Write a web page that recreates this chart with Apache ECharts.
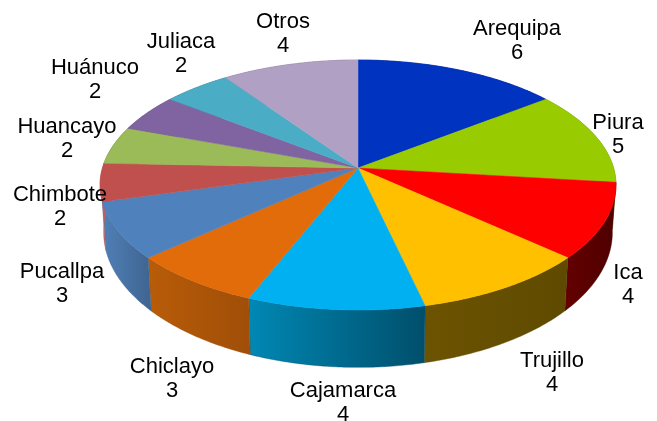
<!DOCTYPE html>
<html><head><meta charset="utf-8">
<style>html,body{margin:0;padding:0;background:#fff}#c{width:657px;height:421px}</style>
<script src="https://cdn.jsdelivr.net/npm/echarts@6/dist/echarts.min.js"></script>
</head><body><div id="c"></div>
<script>
const categories=['Arequipa','Piura','Ica','Trujillo','Cajamarca','Chiclayo','Pucallpa','Chimbote','Huancayo','Huánuco','Juliaca','Otros'];
const values=[6,5,4,4,4,3,3,2,2,2,2,4];
const topColors=['#0033c0','#99cc00','#ff0000','#ffc000','#00b0f0','#e26b0a','#4f81bd','#c0504d','#9bbb59','#8064a2','#4bacc6','#b0a0c4'];
const wallFrom=['#001a66','#526e00','#640000','#6c5300','#0088b4','#b85c08','#5080b8','#b06468','#556630','#463758','#295e6c','#605770'];
const wallTo=['#001a66','#526e00','#4e0000','#5e4a00','#004f6c','#a04e08','#3f6490','#b06468','#556630','#463758','#295e6c','#605770'];
const labelCentres=[[517,41],[618,135],[628,285],[552,373],[343,403],[172,379],[62,284],[60,207],[67,139],[95,80],[181,54],[283,34]];

const G={cx:358,cy:168,rx:255.6,ry:122.7,k:0.136,drop:46,xs:0.986,ys:1.08};
const total=values.reduce((a,b)=>a+b,0);
const starts=[];values.reduce((a,v,i)=>(starts[i]=a,a+v),0);
function rim(t,lower){
  const s=Math.sin(t),c=-Math.cos(t),w=1-G.k*c;
  const dx=G.rx*s/w,dy=G.ry*c/w;
  return lower?[G.cx+dx*G.xs,G.cy+G.drop+dy*G.ys]:[G.cx+dx,G.cy+dy];
}
function arc(i,lower){
  const a=starts[i]/total*2*Math.PI,b=(starts[i]+values[i])/total*2*Math.PI;
  const n=Math.max(2,Math.ceil((b-a)/0.01)),p=[];
  for(let j=0;j<=n;j++)p.push(rim(a+(b-a)*j/n,lower));
  return p;
}
const data=categories.map((n,i)=>({name:n,value:values[i]}));
const chart=echarts.init(document.getElementById('c'),null,{renderer:'canvas'});
chart.setOption({
  animation:false,
  series:[
    {type:'custom',coordinateSystem:'none',silent:true,data,z:1,
     renderItem(p){const i=p.dataIndex;
       const pts=arc(i,false).concat(arc(i,true).reverse());
       return {type:'polygon',shape:{points:pts},style:{
         fill:{type:'linear',x:0,y:0,x2:1,y2:0,colorStops:[{offset:0,color:wallFrom[i]},{offset:1,color:wallTo[i]}]},
         stroke:wallTo[i],lineWidth:0.4}};}},
    {type:'custom',coordinateSystem:'none',silent:true,data,z:2,
     renderItem(p){const i=p.dataIndex;
       return {type:'polygon',shape:{points:[[G.cx,G.cy]].concat(arc(i,false))},
         style:{fill:topColors[i],stroke:topColors[i],lineWidth:0.5}};}},
    {type:'custom',coordinateSystem:'none',silent:true,data,z:3,
     renderItem(p,api){const i=p.dataIndex;
       return {type:'text',x:labelCentres[i][0],y:labelCentres[i][1],style:{
         text:categories[i]+'\n'+api.value(0),fill:'#000',align:'center',verticalAlign:'middle',
         font:'22px "Liberation Sans"',lineHeight:24}};},
     encode:{value:0}}
  ]
});
</script></body></html>
